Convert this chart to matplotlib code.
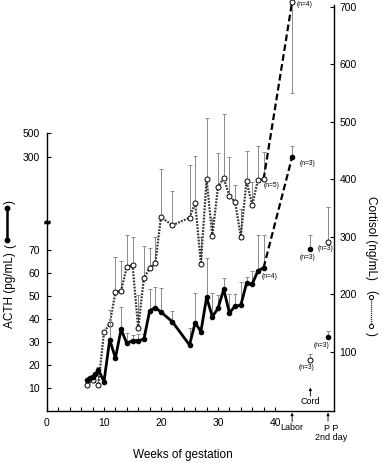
import numpy as np
import matplotlib
matplotlib.use("Agg")
import matplotlib.pyplot as plt
from matplotlib.lines import Line2D

plt.rcParams['font.family'] = ['Liberation Sans', 'DejaVu Sans']

# ---------------- data ----------------
acth_weeks = [7, 7.5, 8, 8.5, 9, 10, 11, 12, 13, 14, 15, 16, 17, 18, 19, 20, 22,
              25, 26, 27, 28, 29, 30, 31, 32, 33, 34, 35, 36, 37, 38]
acth_vals = [13.5, 14.5, 15, 16, 18, 12.8, 31, 23, 35.5, 29.4, 30.6, 30.6, 31.2,
             43.5, 45, 43, 38.8, 28.7, 38.4, 34.5, 49.4, 41, 44.6, 52.9, 42.7,
             45.6, 46, 55.5, 55.2, 60.9, 62.3]
acth_err_top = [np.nan, np.nan, np.nan, np.nan, np.nan, np.nan, 44, np.nan, 45.3,
                34, 33, 33.5, 33.5, 52.9, 54, 53.6, 43.6, 36.2, 51.4, np.nan,
                66.6, 51.4, 50.4, 58, 50.7, 50.7, 56.2, 58.4, 61, 76.5, 76.5]

cort_weeks = [7, 8, 9, 10, 11, 12, 13, 14, 15, 16, 17, 18, 19, 20, 22, 25, 26,
              27, 28, 29, 30, 31, 32, 33, 34, 35, 36, 37, 38]
cort_vals = [42, 50, 42, 134, 148, 203, 206, 247, 251, 141, 228, 245, 254, 334,
             320, 333, 359, 253, 400, 301, 387, 402, 371, 361, 300, 397, 355,
             399, 400]
cort_err_top = [np.nan, np.nan, 73, np.nan, 172, 265, 258, 303, 299, 199, 284,
                280, 299, 418, 379, 425, 441, 300, 506, 333, 446, 514, 438, 390,
                348, 450, 396, 458, 448]

# special points: labor, cord, postpartum 2nd day
event_pos = [43, 46.2, 49.3]
event_names = ["Labor", "Cord", "P P\n2nd day"]
acth_event = [300, 70.4, 32.3]
acth_event_top = [382, 76.5, 35]
cort_event = [709, 85, 291]
cort_event_err_low = [550, np.nan, np.nan]
cort_event_top = [np.nan, 95, 352]
n_acth_event = ["(n=3)", "(n=3)", "(n=3)"]
n_cort_event = ["(n=4)", "(n=3)", "(n=3)"]

x_major = [0, 10, 20, 30, 40]
acth_ticks = [10, 20, 30, 40, 50, 60, 70, 300, 500]
cort_ticks = [100, 200, 300, 400, 500, 600, 700]

# ---------------- broken ACTH scale (linear, then log) ----------------
LIN = 2.3
V_BREAK = 84.6
U_BREAK = LIN * V_BREAK


def fwd(v):
    v = np.asarray(v, float)
    lg = 254 + 108.2 * np.log10(np.maximum(v, 1e-6) / 300.0)
    return np.where(v <= V_BREAK, v * LIN, lg)


def inv(u):
    u = np.asarray(u, float)
    return np.where(u <= U_BREAK, u / LIN,
                    300.0 * 10 ** ((np.minimum(u, 2000) - 254) / 108.2))


W, H = 382, 463
fig = plt.figure(figsize=(W / 100, H / 100), dpi=100)
ax = fig.add_axes([47 / W, 52 / H, 287 / W, 411 / H])
ax.set_yscale('function', functions=(fwd, inv))
ax.set_ylim(0, float(inv(411)))
ax.set_xlim(0, 50.35)
ax.patch.set_visible(False)

ax2 = ax.twinx()
ax2.set_ylim(-2 / 0.5743, 409 / 0.5743)
ax2.set_zorder(ax.get_zorder() - 1)

# spines
for s in ['top', 'right']:
    ax.spines[s].set_visible(False)
ax.spines['left'].set_bounds(0, 500)
for s in ['top', 'left', 'bottom']:
    ax2.spines[s].set_visible(False)
ax2.spines['right'].set_bounds(-3.4, 704)
for sp in list(ax.spines.values()) + list(ax2.spines.values()):
    sp.set_linewidth(1.0)

# ticks
ax.set_xticks(x_major)
ax.set_xticks(np.arange(0, 41, 2), minor=True)
ax.set_yticks(acth_ticks)
ax.set_yticks([], minor=True)
ax.set_yticklabels([str(t) for t in acth_ticks])
ax2.set_yticks(cort_ticks)
ax.tick_params(axis='both', which='both', direction='in', length=3, width=0.8,
               labelsize=7.5)
ax.tick_params(axis='x', pad=5)
ax.tick_params(axis='y', pad=5)
ax2.tick_params(axis='y', direction='in', length=3, width=0.8, labelsize=7.5, pad=4)

# break mark on left spine
ax.plot([0], [82], marker=r'$\approx$', ms=3.5, color='k', clip_on=False,
        transform=ax.get_yaxis_transform(), zorder=5)

ecol = '#8a8a8a'

# ---- cortisol (open circles, dotted) ----
cw = np.array(cort_weeks, float)
cv = np.array(cort_vals, float)
ct = np.array(cort_err_top, float)
m = ~np.isnan(ct)
ax2.errorbar(cw[m], cv[m], yerr=[np.zeros(m.sum()), ct[m] - cv[m]], fmt='none',
             ecolor=ecol, elinewidth=0.7, capsize=1.3, capthick=0.7, zorder=1)
ax2.plot(cw, cv, linestyle=(0, (0.8, 0.6)), color='#333333', lw=1.6, zorder=2)
ax2.plot(cw, cv, linestyle='none', marker='o', ms=3.6, mfc='white', mec='k',
         mew=0.7, zorder=3)
# dashed to labor
ax2.plot([cw[-1], event_pos[0]], [cv[-1], cort_event[0]], linestyle=(0, (3, 1.5)),
         color='k', lw=1.6, zorder=2)
ev = np.array(cort_event, float)
ax2.errorbar([event_pos[0]], [ev[0]], yerr=[[ev[0] - cort_event_err_low[0]], [0]],
             fmt='none', ecolor=ecol, elinewidth=0.7, capsize=1.3, capthick=0.7)
for p, v, t in zip(event_pos[1:], cort_event[1:], cort_event_top[1:]):
    ax2.errorbar([p], [v], yerr=[[0], [t - v]], fmt='none', ecolor=ecol,
                 elinewidth=0.7, capsize=1.3, capthick=0.7)
ax2.plot(event_pos, cort_event, linestyle='none', marker='o', ms=3.6, mfc='white',
         mec='k', mew=0.7, zorder=3, clip_on=False)

# ---- ACTH (filled circles, solid) ----
aw = np.array(acth_weeks, float)
av = np.array(acth_vals, float)
at = np.array(acth_err_top, float)
m = ~np.isnan(at)
ax.errorbar(aw[m], av[m], yerr=[np.zeros(m.sum()), at[m] - av[m]], fmt='none',
            ecolor=ecol, elinewidth=0.7, capsize=1.3, capthick=0.7, zorder=1)
ax.plot(aw, av, '-', color='k', lw=2.0, zorder=4)
ax.plot(aw, av, linestyle='none', marker='o', ms=3.0, color='k', zorder=5)
ax.plot([aw[-1], event_pos[0]], [av[-1], acth_event[0]], linestyle=(0, (3, 1.5)),
        color='k', lw=1.6, zorder=4)
for p, v, t in zip(event_pos, acth_event, acth_event_top):
    ax.errorbar([p], [v], yerr=[[0], [t - v]], fmt='none', ecolor=ecol,
                elinewidth=0.7, capsize=1.3, capthick=0.7)
ax.plot(event_pos, acth_event, linestyle='none', marker='o', ms=3.0, color='k',
        zorder=5)

# n annotations
fs_n = 4.8
ax2.annotate(n_cort_event[0], (event_pos[0], cort_event[0]), xytext=(9, -2),
             textcoords='offset points', fontsize=fs_n, ha='center', va='center')
ax2.annotate("(n=5)", (cw[-1], cv[-1]), xytext=(5.5, -4.5),
             textcoords='offset points', fontsize=fs_n, ha='center', va='center')
ax.annotate(n_acth_event[0], (event_pos[0], acth_event[0]), xytext=(11, -4.5),
            textcoords='offset points', fontsize=fs_n, ha='center', va='center')
ax.annotate("(n=4)", (aw[-1], av[-1]), xytext=(4.5, -6.5),
            textcoords='offset points', fontsize=fs_n, ha='center', va='center')
ax.annotate(n_acth_event[1], (event_pos[1], acth_event[1]), xytext=(-2, -6),
            textcoords='offset points', fontsize=fs_n, ha='center', va='center')
ax2.annotate(n_cort_event[1], (event_pos[1], cort_event[1]), xytext=(-2.5, -5),
             textcoords='offset points', fontsize=fs_n, ha='center', va='center')
ax2.annotate(n_cort_event[2], (event_pos[2], cort_event[2]), xytext=(-2, -4.5),
             textcoords='offset points', fontsize=fs_n, ha='center', va='center')
ax.annotate(n_acth_event[2], (event_pos[2], acth_event[2]), xytext=(-4.5, -6),
            textcoords='offset points', fontsize=fs_n, ha='center', va='center')

# event arrows and labels
aprops = dict(arrowstyle='-|>', lw=0.6, color='k', mutation_scale=4,
              shrinkA=0, shrinkB=0)
ax.annotate('', xy=(event_pos[0], -0.004), xytext=(event_pos[0], -0.027),
            xycoords=('data', 'axes fraction'), textcoords=('data', 'axes fraction'),
            arrowprops=aprops, annotation_clip=False)
ax.text(event_pos[0], -0.039, event_names[0], transform=ax.get_xaxis_transform(),
        ha='center', va='center', fontsize=6.5)
ax.annotate('', xy=(event_pos[2], -0.004), xytext=(event_pos[2], -0.025),
            xycoords=('data', 'axes fraction'), textcoords=('data', 'axes fraction'),
            arrowprops=aprops, annotation_clip=False)
ax.text(event_pos[2] + 0.6, -0.031, event_names[2], transform=ax.get_xaxis_transform(),
        ha='center', va='top', fontsize=6.5, linespacing=1.0)
ax.annotate('', xy=(event_pos[1], 0.057), xytext=(event_pos[1], 0.036),
            xycoords=('data', 'axes fraction'), textcoords=('data', 'axes fraction'),
            arrowprops=aprops, annotation_clip=False)
ax.text(event_pos[1], 0.022, event_names[1], transform=ax.get_xaxis_transform(),
        ha='center', va='center', fontsize=6.5)

# axis labels
fig.text(183 / W, 1 - 455 / H, "Weeks of gestation", ha='center', va='center',
         fontsize=8.5)
fig.text(10 / W, 1 - 290 / H, "ACTH (pg/mL)", rotation=90, ha='center',
         va='center', fontsize=8.5)
fig.text(10 / W, 1 - 246 / H, "(", rotation=90, ha='center', va='center', fontsize=8.5)
fig.text(10 / W, 1 - 202 / H, ")", rotation=90, ha='center', va='center', fontsize=8.5)
fig.add_artist(Line2D([7 / W, 7 / W], [1 - 240 / H, 1 - 208 / H], color='k', lw=1.8,
                      marker='o', ms=3.2, transform=fig.transFigure))
fig.text(371 / W, 1 - 238 / H, "Cortisol (ng/mL)", rotation=270, ha='center',
         va='center', fontsize=8.5)
fig.text(371 / W, 1 - 292 / H, "(", rotation=270, ha='center', va='center', fontsize=8.5)
fig.text(371 / W, 1 - 334 / H, ")", rotation=270, ha='center', va='center', fontsize=8.5)
fig.add_artist(Line2D([371 / W, 371 / W], [1 - 297 / H, 1 - 326 / H], color='#333333',
                      lw=1.0, linestyle=(0, (0.8, 0.6)), transform=fig.transFigure))
fig.add_artist(Line2D([371 / W, 371 / W], [1 - 297 / H, 1 - 326 / H], color='k',
                      lw=0, marker='o', ms=3, mfc='white', mew=0.7,
                      transform=fig.transFigure))

fig.savefig("out.png", dpi=100)
